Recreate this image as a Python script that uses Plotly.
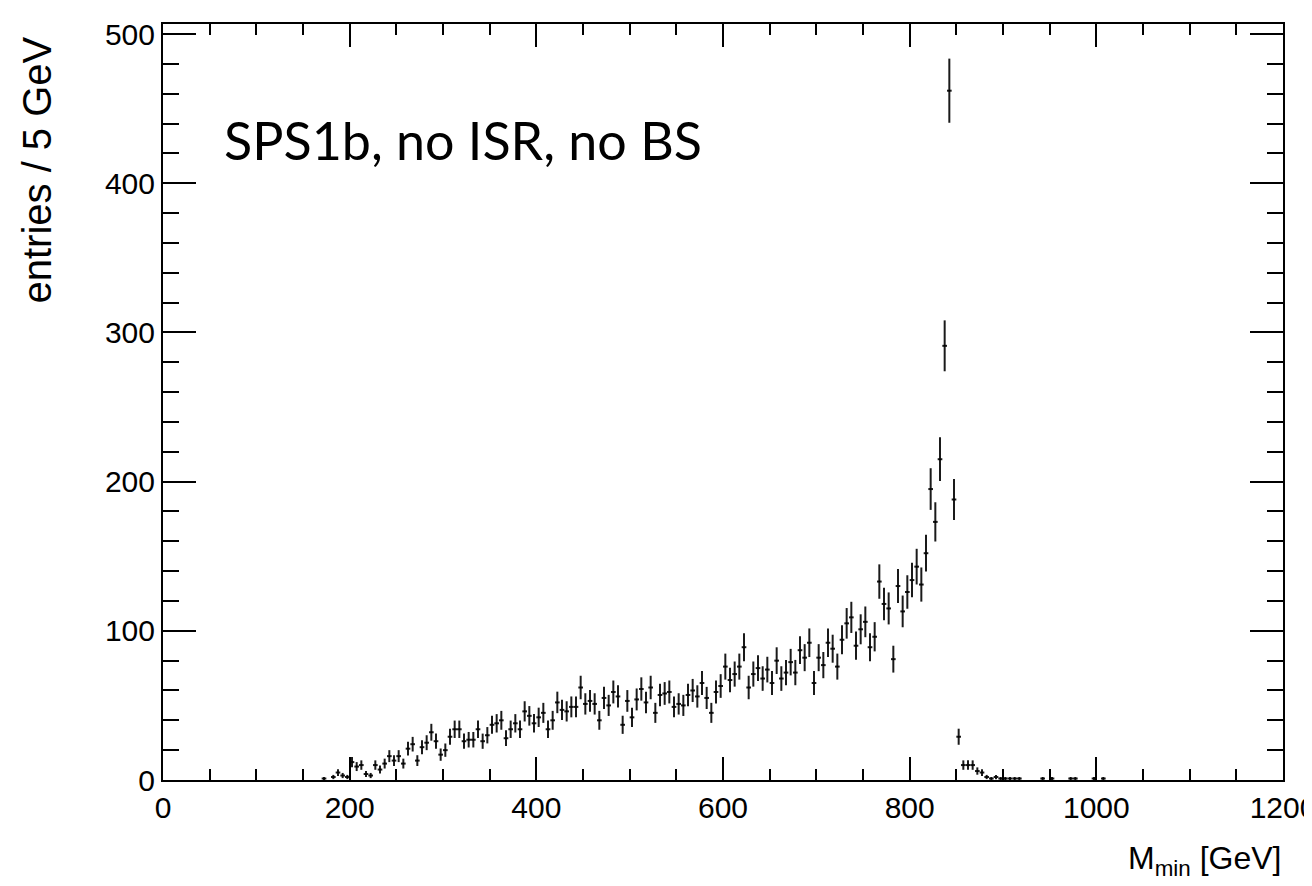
import numpy as np
import plotly.graph_objects as go

# ---- data (5 GeV bins) ----
bin_low = [170, 180, 185, 190, 195, 200, 205, 210, 215, 220, 225, 230, 235, 240, 245,
           250, 255, 260, 265, 270, 275, 280, 285, 290, 295, 300, 305, 310, 315, 320,
           325, 330, 335, 340, 345, 350, 355, 360, 365, 370, 375, 380, 385, 390, 395,
           400, 405, 410, 415, 420, 425, 430, 435, 440, 445, 450, 455, 460, 465, 470,
           475, 480, 485, 490, 495, 500, 505, 510, 515, 520, 525, 530, 535, 540, 545,
           550, 555, 560, 565, 570, 575, 580, 585, 590, 595, 600, 605, 610, 615, 620,
           625, 630, 635, 640, 645, 650, 655, 660, 665, 670, 675, 680, 685, 690, 695,
           700, 705, 710, 715, 720, 725, 730, 735, 740, 745, 750, 755, 760, 765, 770,
           775, 780, 785, 790, 795, 800, 805, 810, 815, 820, 825, 830, 835, 840, 845,
           850, 855, 860, 865, 870, 875, 880, 885, 890, 895, 900, 905, 910, 915,
           940, 950, 970, 975, 995, 1005]
entries = [1, 2, 5, 3, 2, 12, 9, 10, 4, 3, 10, 7, 11, 16, 13,
           16, 11, 21, 24, 13, 22, 25, 32, 26, 17, 20, 29, 34, 34, 26,
           27, 27, 34, 26, 30, 37, 38, 40, 28, 34, 38, 34, 46, 43, 38,
           42, 45, 34, 40, 52, 47, 46, 49, 49, 62, 51, 53, 51, 40, 55,
           50, 59, 56, 37, 53, 42, 54, 61, 52, 62, 45, 57, 58, 59, 49,
           51, 50, 57, 60, 56, 65, 55, 45, 59, 63, 76, 67, 71, 76, 89,
           62, 71, 75, 68, 74, 65, 80, 68, 72, 79, 72, 87, 82, 92, 65,
           82, 77, 92, 88, 76, 94, 105, 109, 90, 101, 106, 89, 96, 133, 118,
           115, 81, 130, 113, 126, 134, 143, 131, 152, 195, 173, 215, 291, 462, 188,
           29, 10, 10, 10, 6, 5, 2, 1, 2, 1, 1, 1, 1, 1,
           1, 1, 1, 1, 1, 1]
bin_width = 5.0

x_major = [0, 200, 400, 600, 800, 1000, 1200]
y_major = [0, 100, 200, 300, 400, 500]

label_text = "SPS1b, no ISR, no BS"
x_title = "M<sub>min</sub> [GeV]"
y_title = "entries / 5 GeV"

# ---- figure ----
xc = np.array(bin_low, dtype=float) + bin_width / 2
yv = np.array(entries, dtype=float)
err = np.sqrt(yv)

ink = "#1a1a1a"
fig = go.Figure(
    go.Scatter(
        x=xc, y=yv, mode="markers",
        marker=dict(size=2, color="black"),
        error_y=dict(type="data", array=err, width=0, thickness=2, color=ink),
        error_x=dict(type="constant", value=bin_width / 2, width=0, thickness=2, color=ink),
        showlegend=False,
        hoverinfo="x+y",
    )
)

tickfont = dict(family="Liberation Sans, Arial, sans-serif", size=30, color="black")

fig.update_layout(
    width=1304, height=878,
    margin=dict(l=155, r=29, t=16, b=106, autoexpand=False),
    paper_bgcolor="white", plot_bgcolor="white",
    xaxis=dict(
        range=[0, 1200], tickmode="array", tickvals=x_major,
        ticks="inside", ticklen=23, tickwidth=2, tickcolor="black",
        minor=dict(dtick=50, tick0=0, ticks="inside", ticklen=11, tickwidth=2, tickcolor="black"),
        showline=True, linewidth=2, linecolor="black", mirror="ticks",
        showgrid=False, zeroline=False, tickfont=tickfont,
        ticklabeloverflow="allow", automargin=False,
    ),
    yaxis=dict(
        range=[0, 506.7], tickmode="array", tickvals=y_major,
        ticks="inside", ticklen=33, tickwidth=2, tickcolor="black",
        minor=dict(dtick=20, tick0=0, ticks="inside", ticklen=16, tickwidth=2, tickcolor="black"),
        showline=True, linewidth=2, linecolor="black", mirror="ticks",
        showgrid=False, zeroline=False, tickfont=tickfont, automargin=False,
    ),
    annotations=[
        dict(text=label_text, xref="paper", yref="paper", x=0.0527, y=0.8466,
             xanchor="left", yanchor="middle", showarrow=False,
             font=dict(family="Lato, Open Sans, sans-serif", size=52, color="black")),
        dict(text=x_title, xref="paper", yref="paper", x=1.0, y=-0.106,
             xanchor="right", yanchor="middle", showarrow=False,
             font=dict(family="Liberation Sans, Arial, sans-serif", size=32, color="black")),
        dict(text=y_title, xref="paper", yref="paper", x=-0.1125, y=0.9854,
             xanchor="center", yanchor="top", showarrow=False, textangle=-90,
             font=dict(family="Liberation Sans, Arial, sans-serif", size=40, color="black")),
    ],
)

fig.write_html("out.html")
